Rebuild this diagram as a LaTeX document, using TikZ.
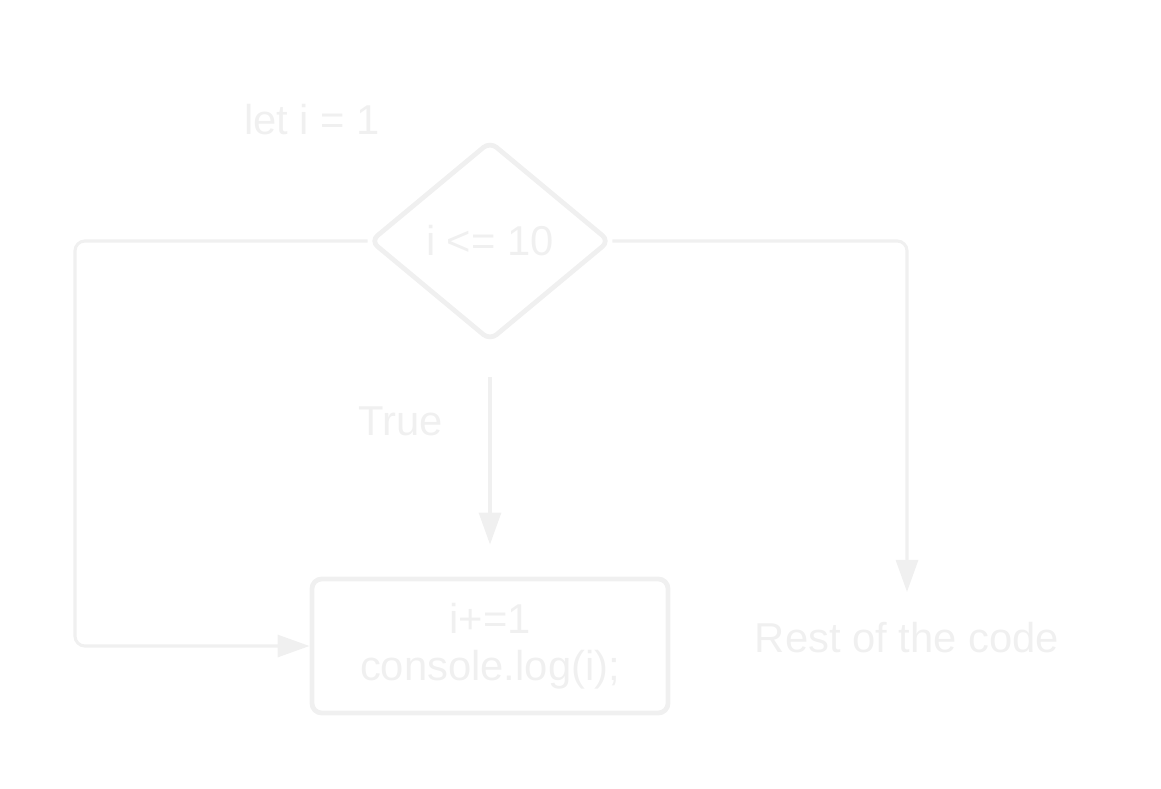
\documentclass[tikz,border=0pt]{standalone}
\usepackage{fontspec}
\setmainfont{Liberation Sans}
\usetikzlibrary{shapes.geometric,arrows.meta}
\definecolor{faint}{HTML}{F0F0F0}
\tikzset{
  label text/.style={text=faint, font=\fontsize{29.7pt}{33.5pt}\selectfont, align=center},
  decision/.style={diamond, draw=faint, line width=3.4pt, rounded corners=6pt,
    minimum width=6cm, minimum height=5cm, inner sep=0pt, label text},
  process/.style={rectangle, draw=faint, line width=3.4pt, rounded corners=7pt,
    minimum width=8.9cm, minimum height=3.35cm, label text},
  flow/.style={draw=faint, line width=2.2pt, rounded corners=7pt,
    -{Triangle[length=0.8cm, width=0.55cm]}}
}
\begin{document}
\begin{tikzpicture}[x=0.025cm,y=-0.025cm]
\useasboundingbox (0,0) rectangle (1161,788);
\node[label text] (init) at (312,120) {let i = 1};
\node[decision] (cond) at (490,241) {i <= 10};
\node[label text] (true) at (401,421) {True};
\node[process] (body) at (490,646) {i+=1\\console.log(i);};
\node[label text] (rest) at (907,638) {Rest of the code};
\coordinate (loop) at (75,450);
\coordinate (exit) at (907,592);
\draw[flow] (cond.west) -| (loop) |- (body.west);
\draw[flow] (cond.east) -| (exit);
\draw[flow, rounded corners=0pt, shorten <=0.85cm, shorten >=0.8cm] (cond.south) -- (body.north);
\end{tikzpicture}
\end{document}
